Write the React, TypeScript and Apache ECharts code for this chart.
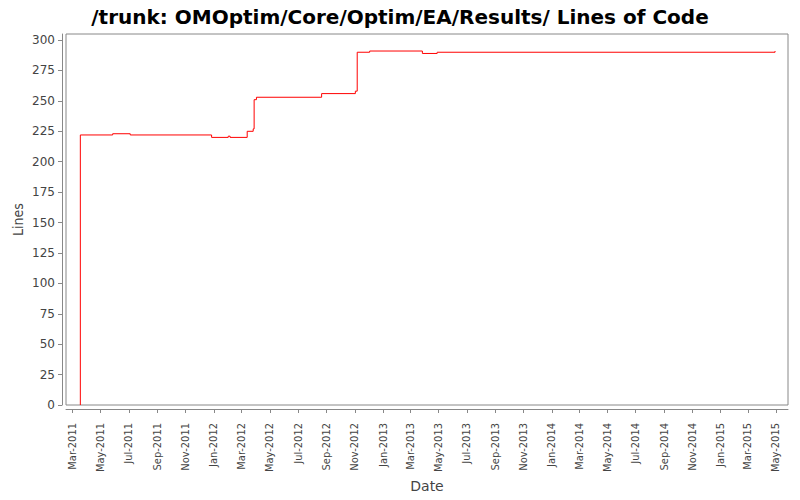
import React, { useEffect, useRef } from "react";
import * as echarts from "echarts";

const TITLE = "/trunk: OMOptim/Core/Optim/EA/Results/ Lines of Code";

// step points: date, lines of code
const dates = [
  "2011-03-18", "2011-03-18", "2011-05-27", "2011-07-04", "2011-12-27",
  "2012-02-01", "2012-02-05", "2012-03-13", "2012-03-26", "2012-03-28",
  "2012-04-02", "2012-08-21", "2012-11-02", "2012-11-06", "2012-12-03",
  "2013-03-27", "2013-04-28", "2015-04-29",
];
const lines = [
  0, 222, 223, 222, 220,
  221, 220, 225, 227, 251,
  253, 256, 258, 290, 291,
  289, 290, 291,
];

const tickMonths = [
  "2011-03-01", "2011-05-01", "2011-07-01", "2011-09-01", "2011-11-01",
  "2012-01-01", "2012-03-01", "2012-05-01", "2012-07-01", "2012-09-01",
  "2012-11-01", "2013-01-01", "2013-03-01", "2013-05-01", "2013-07-01",
  "2013-09-01", "2013-11-01", "2014-01-01", "2014-03-01", "2014-05-01",
  "2014-07-01", "2014-09-01", "2014-11-01", "2015-01-01", "2015-03-01",
  "2015-05-01",
];
const yTicks = [0, 25, 50, 75, 100, 125, 150, 175, 200, 225, 250, 275, 300];

const xMin = "2011-02-15";
const xMax = "2015-05-27";
const yMax = 305;

const MONTHS = ["Jan", "Feb", "Mar", "Apr", "May", "Jun", "Jul", "Aug", "Sep", "Oct", "Nov", "Dec"];

function ts(s: string): number {
  const [y, m, d] = s.split("-").map(Number);
  return Date.UTC(y, m - 1, d);
}

export default function App() {
  const ref = useRef<HTMLDivElement>(null);
  useEffect(() => {
    if (!ref.current) return;
    document.body.style.margin = "0";
    const chart = echarts.init(ref.current, null, { renderer: "svg" });
    const font = "DejaVu Sans";
    const narrow = "'Liberation Sans Narrow', 'DejaVu Sans Condensed', 'DejaVu Sans', sans-serif";
    const axisColor = "#888888";
    const labelColor = "#444444";
    const xTicks = tickMonths.map(ts);
    chart.setOption({
      animation: false,
      backgroundColor: "#ffffff",
      title: {
        text: TITLE,
        left: "center",
        top: 2,
        textStyle: { fontFamily: font, fontSize: 20, fontWeight: "bold", color: "#000" },
      },
      grid: {
        left: 66,
        right: 12,
        top: 34,
        bottom: 95,
        outerBoundsMode: "none",
        containLabel: false,
        show: true,
        borderColor: axisColor,
        borderWidth: 1,
        backgroundColor: "#ffffff",
      },
      xAxis: {
        type: "value",
        min: ts(xMin),
        max: ts(xMax),
        offset: 4,
        name: "Date",
        nameLocation: "middle",
        nameGap: 70,
        nameMoveOverlap: false,
        nameTextStyle: { fontFamily: font, fontSize: 14, color: labelColor },
        axisLine: { show: true, onZero: false, lineStyle: { color: axisColor } },
        axisTick: { show: true, length: 4, lineStyle: { color: axisColor }, customValues: xTicks },
        axisLabel: {
          rotate: 90,
          fontFamily: narrow,
          fontSize: 11,
          color: labelColor,
          margin: 14,
          customValues: xTicks,
          formatter: (v: number) => {
            const d = new Date(v);
            return MONTHS[d.getUTCMonth()] + "-" + d.getUTCFullYear();
          },
        },
        splitLine: { show: false },
      },
      yAxis: {
        type: "value",
        min: 0,
        max: yMax,
        offset: 4,
        name: "Lines",
        nameLocation: "middle",
        nameGap: 37,
        nameMoveOverlap: false,
        nameTextStyle: { fontFamily: narrow, fontSize: 14, color: labelColor },
        axisLine: { show: true, onZero: false, lineStyle: { color: axisColor } },
        axisTick: { show: true, length: 4, lineStyle: { color: axisColor }, customValues: yTicks },
        axisLabel: { fontFamily: font, fontSize: 12, color: labelColor, margin: 7, customValues: yTicks },
        splitLine: { show: false },
      },
      series: [
        {
          type: "line",
          step: "end",
          showSymbol: false,
          symbol: "none",
          lineStyle: { color: "#ff0000", width: 1 },
          data: dates.map((d, i) => [ts(d), lines[i]]),
        },
      ],
    });
    return () => chart.dispose();
  }, []);
  return <div ref={ref} style={{ width: 800, height: 500 }} />;
}
